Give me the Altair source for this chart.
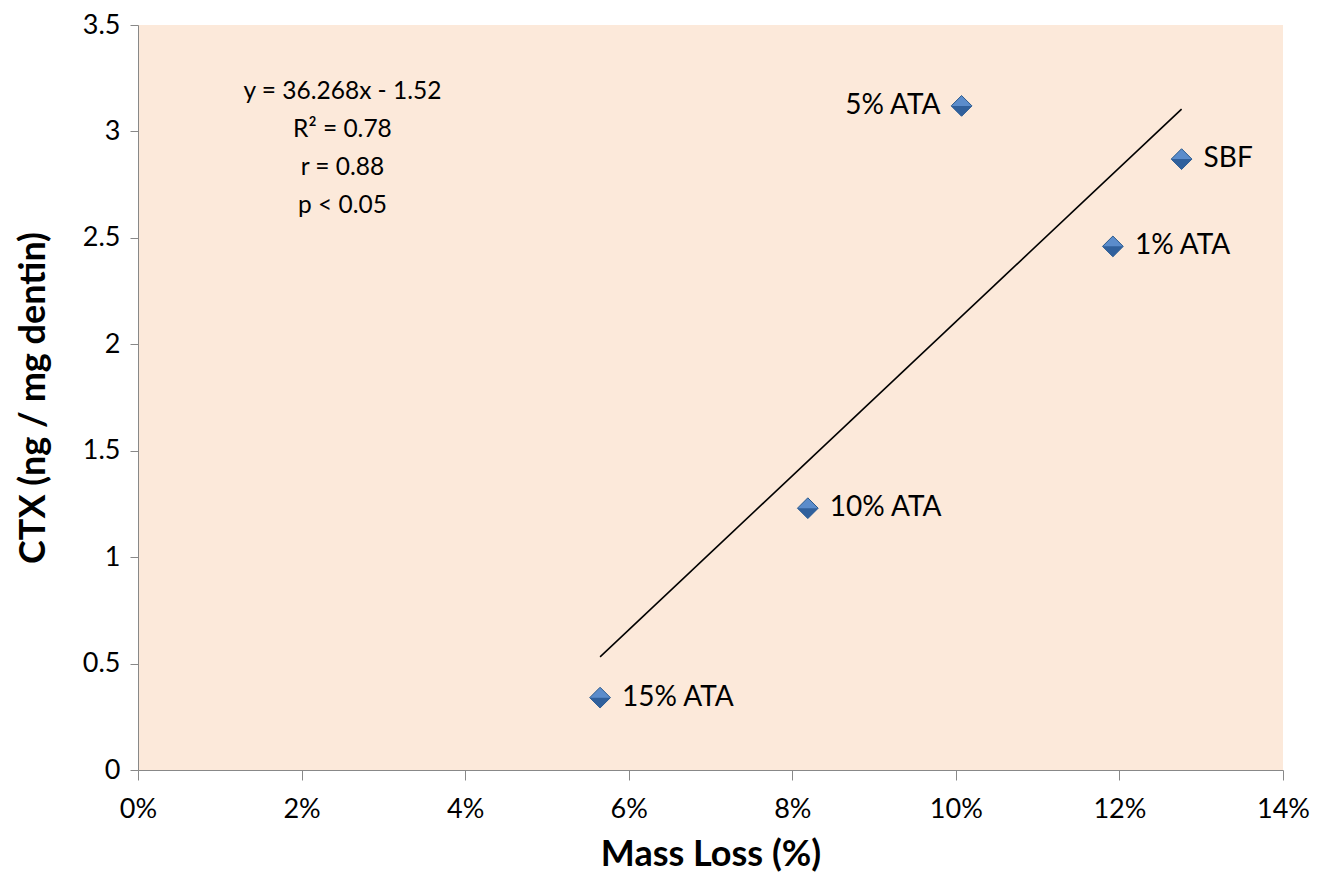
import altair as alt
import pandas as pd

groups = ["15% ATA", "10% ATA", "5% ATA", "SBF", "1% ATA"]
mass_loss = [0.0565, 0.0819, 0.1007, 0.1276, 0.1192]
ctx = [0.34, 1.23, 3.12, 2.87, 2.46]
label_side = ["right", "right", "left", "right", "right"]

annotation = ["y = 36.268x - 1.52", "R² = 0.78", " r  = 0.88", "p < 0.05"]
ann_x = [0.025]
ann_y = [3.24]

df = pd.DataFrame({"group": groups, "mass": mass_loss, "ctx": ctx, "side": label_side})
ann_df = pd.DataFrame({"x": ann_x, "y": ann_y})

FONT = "Lato"
xscale = alt.Scale(domain=[0, 0.14], nice=False, zero=True)
yscale = alt.Scale(domain=[0, 3.5], nice=False)

xenc = alt.X("mass:Q", scale=xscale,
             axis=alt.Axis(title="Mass Loss (%)", format=".0%", values=[0, .02, .04, .06, .08, .10, .12, .14],
                           grid=False, domainColor="#888888", tickColor="#888888", tickSize=10,
                           labelFontSize=27, labelColor="#000000", labelPadding=16, labelFont=FONT,
                           labelFlush=False,
                           titleFontSize=36, titleFont=FONT, titleFontWeight="bold", titleColor="#000000",
                           titlePadding=15))
yenc = alt.Y("ctx:Q", scale=yscale,
             axis=alt.Axis(title="CTX (ng / mg dentin)", values=[0, .5, 1, 1.5, 2, 2.5, 3, 3.5],
                           format=".1~f", labelFlush=False,
                           grid=False, domainColor="#888888", tickColor="#888888", tickSize=8,
                           labelFontSize=27, labelColor="#000000", labelPadding=10, labelFont=FONT,
                           titleFontSize=36, titleFont=FONT, titleFontWeight="bold", titleColor="#000000",
                           titlePadding=30))

base = alt.Chart(df)
xq = alt.X("mass:Q", scale=xscale)
yq = alt.Y("ctx:Q", scale=yscale)

trend = base.transform_regression("mass", "ctx").mark_line(color="#000000", strokeWidth=1.6).encode(x=xq, y=yq)

points = base.mark_point(shape="diamond", filled=True, size=430, color="#5B8CCB",
                         stroke="#2B5A8C", strokeWidth=1, opacity=1).encode(x=xenc, y=yenc)
points_shade = base.mark_point(shape="M-1,0L1,0L0,1Z", filled=True, size=430, color="#30609C",
                               strokeWidth=0, opacity=1).encode(x=xq, y=yq)

labels_r = base.transform_filter(alt.datum.side == "right").mark_text(
    align="left", baseline="middle", dx=22, fontSize=28, font=FONT, color="#000000").encode(
    x=xq, y=yq, text="group:N")
labels_l = base.transform_filter(alt.datum.side == "left").mark_text(
    align="right", baseline="middle", dx=-21, fontSize=28, font=FONT, color="#000000").encode(
    x=xq, y=yq, text="group:N")

ann = alt.Chart(ann_df).mark_text(align="center", baseline="top", fontSize=24.5, font=FONT,
                                  color="#000000", lineHeight=38).encode(
    x=alt.X("x:Q", scale=xscale), y=alt.Y("y:Q", scale=yscale), text=alt.value(annotation))

chart = alt.layer(trend, points, points_shade, labels_r, labels_l, ann).properties(
    width=1145, height=745,
    autosize=alt.AutoSizeParams(type="none"),
    padding={"left": 130, "top": 17, "right": 30, "bottom": 112},
    view=alt.ViewBackground(fill="#FCE9DA", strokeWidth=0),
).configure(background="#FFFFFF")

chart.save("out.html", embed_options={"renderer": "svg", "actions": False})
